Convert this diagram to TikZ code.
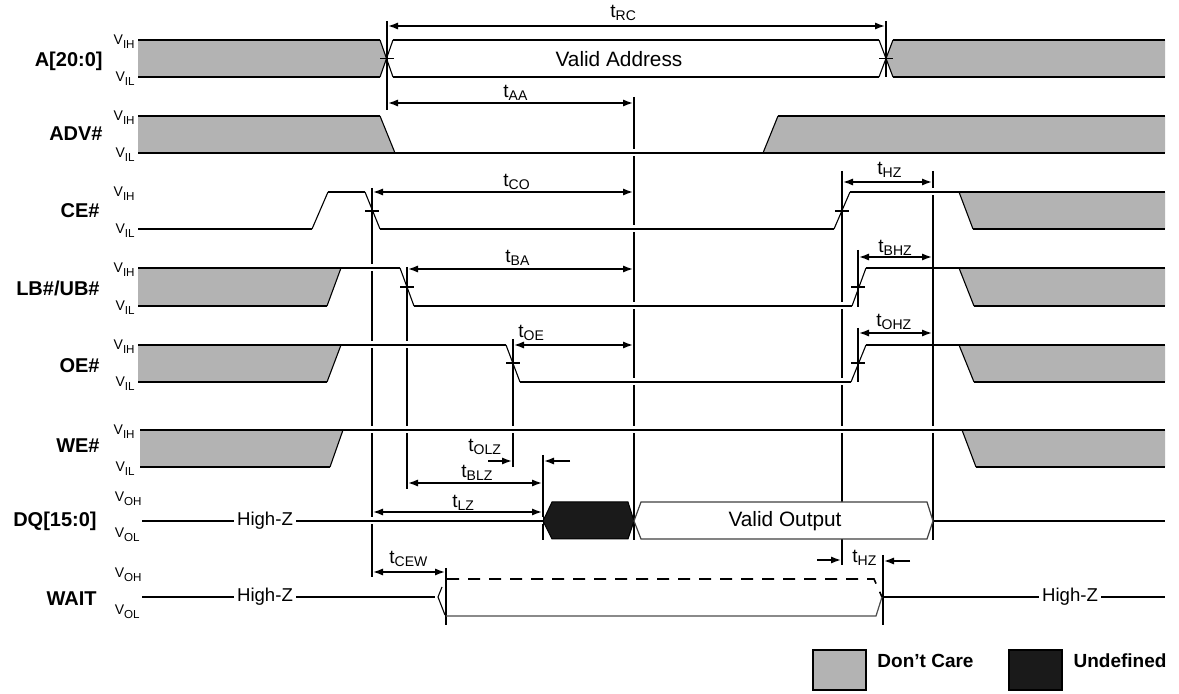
\documentclass[tikz,border=0pt]{standalone}
\usepackage{fontspec}
\setmainfont{Liberation Sans}
\usetikzlibrary{arrows.meta}
\definecolor{dcgray}{HTML}{B3B3B3}
\definecolor{udblack}{HTML}{1A1A1A}
\newcommand\tlab[1]{{\fontsize{9.5}{9.5}\selectfont t}\raisebox{-1.3pt}{\fontsize{7}{7}\selectfont #1}}
\newcommand\vlab[1]{{\fontsize{7}{7}\selectfont V}\raisebox{-1.7pt}{\fontsize{5.8}{5.8}\selectfont #1}}
\tikzset{
  sig/.style={line width=1.1pt},
  slope/.style={line width=0.55pt},
  vl/.style={line width=1pt},
  halo/.style={draw=white, line width=3.5pt},
  dim/.style={line width=0.8pt, {Latex[length=5pt,width=3.6pt]}-{Latex[length=5pt,width=3.6pt]}},
  rarr/.style={line width=0.8pt, -{Latex[length=5pt,width=3.6pt]}},
  dc/.style={fill=dcgray},
  siglab/.style={font=\fontsize{10}{10}\selectfont\bfseries, anchor=base east, inner sep=0pt},
  vlabel/.style={anchor=base east, inner sep=0pt},
  tl/.style={anchor=base west, inner sep=0pt},
  hiz/.style={font=\fontsize{9.3}{9.3}\selectfont, anchor=base, fill=white, inner xsep=1.5pt, inner ysep=0pt},
  big/.style={font=\fontsize{10.4}{10.4}\selectfont, anchor=base, inner sep=0pt},
  leg/.style={font=\fontsize{9.5}{9.5}\selectfont\bfseries, anchor=base, inner sep=0pt},
  tick/.style={line width=0.9pt}
}
\begin{document}
\begin{tikzpicture}[x=0.5pt,y=-0.5pt]
\useasboundingbox (0,0) rectangle (1179,694);
% ---------- vertical reference lines
\draw[vl] (387,21)--(387,110);
\draw[vl] (886,21)--(886,77);
\draw[vl] (634,97)--(634,540);
\draw[vl] (372,188)--(372,577);
\draw[vl] (842,171)--(842,565);
\draw[vl] (933,171)--(933,540);
\draw[vl] (407,267)--(407,489);
\draw[vl] (858,250)--(858,307);
\draw[vl] (858,328)--(858,382);
\draw[vl] (513,339)--(513,467);
\draw[vl] (543,455)--(543,540);
\draw[vl] (446,568)--(446,625);
\draw[vl] (883,555)--(883,625);
% ---------- halos (gaps in verticals)
\draw[halo] (138,153)--(1165,153);
\draw[halo] (380,229)--(834,229);
\draw[halo] (850,192)--(1165,192);
\draw[halo] (341,268)--(400,268);
\draw[halo] (414,306)--(852,306);
\draw[halo] (341,345)--(506,345);
\draw[halo] (520,382)--(851,382);
\draw[halo] (343,430)--(1165,430);
\draw[halo] (142,521)--(543,521);
% ---------- don't care fills
\fill[dc] (138,40)--(380,40)--(387,58.5)--(380,77)--(138,77)--cycle;
\fill[dc] (1165,40)--(893,40)--(886,58.5)--(893,77)--(1165,77)--cycle;
\fill[dc] (138,116)--(380,116)--(395,153)--(138,153)--cycle;
\fill[dc] (763,153)--(778,116)--(1165,116)--(1165,153)--cycle;
\fill[dc] (959,192)--(1165,192)--(1165,229)--(973,229)--cycle;
\fill[dc] (138,268)--(341,268)--(327,306)--(138,306)--cycle;
\fill[dc] (959,268)--(1165,268)--(1165,306)--(974,306)--cycle;
\fill[dc] (138,345)--(341,345)--(327,382)--(138,382)--cycle;
\fill[dc] (959,345)--(1165,345)--(1165,382)--(974,382)--cycle;
\fill[dc] (140,430)--(343,430)--(330,467)--(140,467)--cycle;
\fill[dc] (962,430)--(1165,430)--(1165,467)--(976,467)--cycle;
% ---------- A[20:0]
\draw[sig] (138,40)--(380,40) (138,77)--(380,77) (393,40)--(879,40) (393,77)--(879,77) (893,40)--(1165,40) (893,77)--(1165,77);
\draw[slope] (380,40)--(393,77) (380,77)--(393,40) (879,40)--(893,77) (879,77)--(893,40);
\draw[tick] (380,58.5)--(394,58.5) (879,58.5)--(893,58.5);
% ---------- ADV#
\draw[sig] (138,116)--(380,116) (138,153)--(1165,153) (778,116)--(1165,116);
\draw[slope] (380,116)--(395,153) (763,153)--(778,116);
% ---------- CE#
\draw[sig] (138,229)--(312,229) (328,192)--(365,192) (380,229)--(834,229) (850,192)--(1165,192) (973,229)--(1165,229);
\draw[slope] (312,229)--(328,192) (365,192)--(380,229) (834,229)--(850,192) (959,192)--(973,229);
\draw[tick] (365,211)--(379,211) (835,211)--(849,211);
% ---------- LB#/UB#
\draw[sig] (138,268)--(400,268) (138,306)--(327,306) (414,306)--(852,306) (866,268)--(1165,268) (974,306)--(1165,306);
\draw[slope] (327,306)--(341,268) (400,268)--(414,306) (852,306)--(866,268) (959,268)--(974,306);
\draw[tick] (400,287)--(414,287) (851,287)--(865,287);
% ---------- OE#
\draw[sig] (138,345)--(506,345) (138,382)--(327,382) (520,382)--(851,382) (866,345)--(1165,345) (974,382)--(1165,382);
\draw[slope] (327,382)--(341,345) (506,345)--(520,382) (851,382)--(866,345) (959,345)--(974,382);
\draw[tick] (506,363)--(520,363) (851,363)--(865,363);
% ---------- WE#
\draw[sig] (140,430)--(1165,430) (140,467)--(330,467) (976,467)--(1165,467);
\draw[slope] (330,467)--(343,430) (962,430)--(976,467);
% ---------- DQ[15:0]
\draw[sig] (142,521)--(543,521) (933,521)--(1165,521);
\filldraw[fill=udblack, draw=black, line width=0.5pt] (543,521)--(552,502)--(628,502)--(634,521)--(628,539)--(552,539)--cycle;
\filldraw[fill=white, draw=black!75, line width=0.6pt] (634,521)--(641,502)--(927,502)--(933,521)--(927,539)--(641,539)--cycle;
\node[big] (va) at (619,67) {Valid Address};
\node[big] (vo) at (785,527) {Valid Output};
\node[hiz] (hz1) at (265,526) {High-Z};
% ---------- WAIT
\draw[sig] (142,597)--(435,597) (883,597)--(1165,597);
\draw[line width=0.8pt, dash pattern=on 6pt off 4.5pt] (447,579)--(874,579)--(882,597);
\draw[draw=black!70, line width=0.6pt] (446,616)--(876,616)--(882,597);
\draw[slope] (442,587)--(438,597)--(445,615);
\node[hiz] (hz2) at (265,602) {High-Z};
\node[hiz] (hz3) at (1070,602) {High-Z};
% ---------- timing arrows
\draw[dim] (388,26)--(885,26);
\draw[dim] (388,103)--(633,103);
\draw[dim] (373,192)--(633,192);
\draw[dim] (843,182)--(932,182);
\draw[dim] (408,269)--(633,269);
\draw[dim] (859,257)--(932,257);
\draw[dim] (514,345)--(633,345);
\draw[dim] (859,333)--(932,333);
\draw[rarr] (488,461)--(512,461);
\draw[rarr] (570,461)--(544,461);
\draw[dim] (408,483)--(542,483);
\draw[dim] (373,512)--(542,512);
\draw[dim] (373,572)--(445,572);
\draw[rarr] (817,560)--(841,560);
\draw[rarr] (910,561)--(884,561);
% ---------- timing labels
\node[tl] (trc) at (610,18) {\tlab{RC}};
\node[tl] (taa) at (503,98) {\tlab{AA}};
\node[tl] (tco) at (503,187) {\tlab{CO}};
\node[tl] (thz1) at (877,175) {\tlab{HZ}};
\node[tl] (tba) at (505,263) {\tlab{BA}};
\node[tl] (tbhz) at (878,253) {\tlab{BHZ}};
\node[tl] (toe) at (518,338) {\tlab{OE}};
\node[tl] (tohz) at (876,327) {\tlab{OHZ}};
\node[tl] (tolz) at (468,452) {\tlab{OLZ}};
\node[tl] (tblz) at (461,478) {\tlab{BLZ}};
\node[tl] (tlz) at (452,508) {\tlab{LZ}};
\node[tl] (tcew) at (389,564) {\tlab{CEW}};
\node[tl] (thz2) at (852,563) {\tlab{HZ}};
% ---------- signal names
\node[siglab] (sa) at (103,66.5) {A[20:0]};
\node[siglab] (sadv) at (103,141) {ADV\#};
\node[siglab] (sce) at (100,218) {CE\#};
\node[siglab] (slb) at (100,296) {LB\#/UB\#};
\node[siglab] (soe) at (100,373) {OE\#};
\node[siglab] (swe) at (100,453) {WE\#};
\node[siglab] (sdq) at (97,527) {DQ[15:0]};
\node[siglab] (swt) at (97,606) {WAIT};
% ---------- level labels
\foreach \hy/\ly [count=\i] in {40/77,116/153,192/229,268/306,345/382,430/467}{
  \node[vlabel] (vih\i) at (135,\hy+5) {\vlab{IH}};
  \node[vlabel] (vil\i) at (135,\ly+5) {\vlab{IL}};
}
\node[vlabel] (voh1) at (142,502) {\vlab{OH}};
\node[vlabel] (vol1) at (140,538) {\vlab{OL}};
\node[vlabel] (voh2) at (142,578) {\vlab{OH}};
\node[vlabel] (vol2) at (140,615) {\vlab{OL}};
% ---------- legend
\filldraw[fill=dcgray, draw=black, line width=1.1pt] (813,650) rectangle (866,690);
\filldraw[fill=udblack, draw=black, line width=1.1pt] (1009,650) rectangle (1062,690);
\node[leg] (ldc) at (925.5,668) {Don’t Care};
\node[leg] (lud) at (1120,668) {Undefined};
\end{tikzpicture}
\end{document}
